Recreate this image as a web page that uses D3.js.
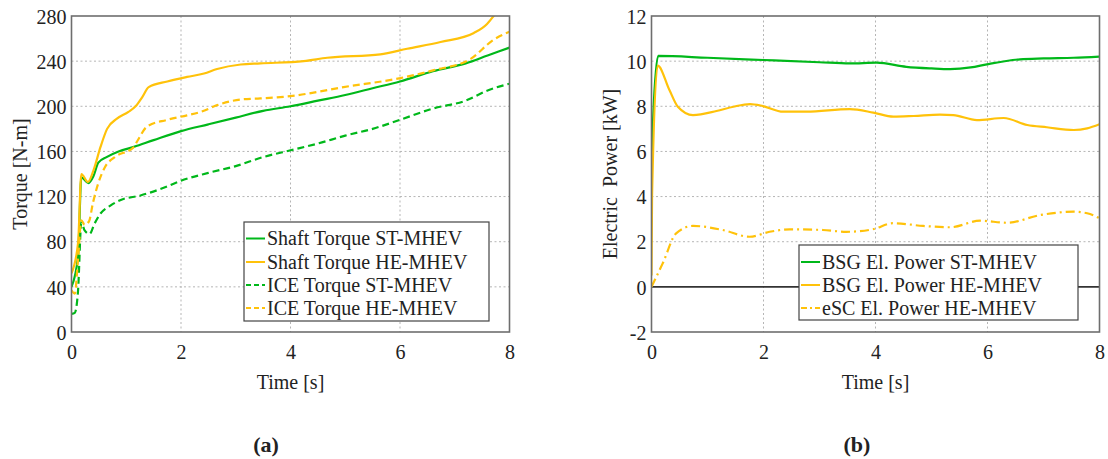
<!DOCTYPE html>
<html><head><meta charset="utf-8">
<script src="https://cdn.jsdelivr.net/npm/d3@7"></script>
<style>
html,body{margin:0;padding:0;background:#fff;}
text{font-family:"Liberation Serif","Times New Roman",serif;fill:#222;}
</style></head>
<body><svg id="c" width="1108" height="459"></svg>
<script>
// ---------- data (a) ----------
const torqueTicks = [0,40,80,120,160,200,240,280];
const timeTicks = [0,2,4,6,8];
const shaftST_t = [0,0.12,0.18,0.31,0.4,0.49,0.64,0.86,1.14,1.5,2.0,2.5,3.0,3.5,4.0,4.5,5.0,5.5,6.0,6.6,7.2,7.6,8.0];
const shaftST_v = [40,67,137,132,138,150,155,160,164,170,178,184,190,196,200,205,210,216,222,231,238,245,252];
const shaftHE_t = [0,0.12,0.18,0.3,0.4,0.53,0.65,0.83,1.04,1.17,1.29,1.41,1.75,2.11,2.42,2.66,3.09,3.45,4.24,4.67,5.64,6.13,6.74,7.35,7.59,7.71,8.0];
const shaftHE_v = [52,79,140,133,143,164,180,189,195,200,208,217,222,226,229,233,237,238,240,243,246,251,257,265,273,280,300];
const iceST_t = [0,0.06,0.12,0.18,0.24,0.33,0.42,0.53,0.71,0.9,1.26,1.75,2.0,2.5,3.0,3.5,4.0,4.5,5.0,5.5,6.0,6.6,7.2,7.6,8.0];
const iceST_v = [16,17,37,97,90,87,96,105,112,117,121,129,134,141,147,155,161,167,174,180,188,198,205,214,220];
const iceHE_t = [0,0.06,0.12,0.18,0.24,0.32,0.39,0.49,0.61,0.79,1.14,1.2,1.38,1.75,2.11,2.36,2.66,3.09,3.45,4.0,4.97,6.01,6.62,7.29,7.71,8.0];
const iceHE_v = [37,34,65,99,95,98,114,132,146,155,164,169,182,188,192,195,201,206,207,209,217,225,232,242,259,266];
const legendA = ["Shaft Torque ST-MHEV","Shaft Torque HE-MHEV","ICE Torque ST-MHEV","ICE Torque HE-MHEV"];

// ---------- data (b) ----------
const powerTicks = [-2,0,2,4,6,8,10,12];
const bsgST_t = [0,0.03,0.12,1.0,2.0,3.0,3.54,4.02,4.55,5.0,5.33,5.7,5.99,6.58,7.0,7.54,8.0];
const bsgST_v = [4.5,7.5,10.23,10.15,10.05,9.95,9.9,9.93,9.75,9.68,9.65,9.72,9.86,10.08,10.12,10.15,10.2];
const bsgHE_t = [0,0.01,0.11,0.32,0.47,0.74,1.16,1.46,1.76,1.99,2.35,2.77,3.54,3.96,4.32,4.68,5.15,5.39,5.81,6.29,6.71,7.06,7.54,7.78,8.0];
const bsgHE_v = [0.5,4,9.8,8.72,7.98,7.61,7.79,7.98,8.1,8.01,7.76,7.76,7.87,7.72,7.54,7.57,7.63,7.61,7.39,7.48,7.17,7.07,6.95,7.02,7.2];
const esc_t = [0,0.2,0.44,0.74,1.27,1.75,2.11,2.47,3.06,3.48,3.95,4.31,4.85,5.33,5.87,6.35,6.94,7.54,7.78,8.0];
const esc_v = [0.0,1.04,2.37,2.7,2.52,2.22,2.44,2.55,2.52,2.44,2.55,2.82,2.7,2.64,2.93,2.84,3.18,3.33,3.26,3.04];
const legendB = ["BSG El. Power ST-MHEV","BSG El. Power HE-MHEV","eSC El. Power HE-MHEV"];

const GREEN = "#00b81a", YELLOW = "#ffc20a";
const FS = 20;
const svg = d3.select("#c");

function panel(opt){
  const g = svg.append("g");
  const x = d3.scaleLinear().domain([0,8]).range([opt.x0,opt.x1]);
  const y = d3.scaleLinear().domain(opt.ydom).range([opt.y1,opt.y0]);
  const id = "clip"+opt.name;
  svg.append("defs").append("clipPath").attr("id",id).append("rect")
    .attr("x",opt.x0).attr("y",opt.y0).attr("width",opt.x1-opt.x0).attr("height",opt.y1-opt.y0);
  // grid
  g.append("g").selectAll("line").data(timeTicks.filter(t=>t>0&&t<8)).join("line")
    .attr("x1",d=>x(d)).attr("x2",d=>x(d)).attr("y1",opt.y0).attr("y2",opt.y1)
    .attr("stroke","#b5b5b5").attr("stroke-width",1).attr("stroke-dasharray","2,2.5");
  g.append("g").selectAll("line").data(opt.yticks.filter(t=>t>opt.ydom[0]&&t<opt.ydom[1]&&!(opt.zero&&t===0))).join("line")
    .attr("y1",d=>y(d)).attr("y2",d=>y(d)).attr("x1",opt.x0).attr("x2",opt.x1)
    .attr("stroke","#b5b5b5").attr("stroke-width",1).attr("stroke-dasharray","2,2.5");
  if(opt.zero){
    g.append("line").attr("x1",opt.x0).attr("x2",opt.x1).attr("y1",y(0)).attr("y2",y(0))
      .attr("stroke","#333").attr("stroke-width",1.6);
  }
  // series
  const line = d3.line().x(d=>x(d[0])).y(d=>y(d[1])).curve(d3.curveMonotoneX);
  const sg = g.append("g").attr("clip-path",`url(#${id})`);
  opt.series.forEach(s=>{
    sg.append("path").datum(d3.zip(s.t,s.v)).attr("d",line).attr("fill","none")
      .attr("stroke",s.color).attr("stroke-width",2.2).attr("stroke-dasharray",s.dash||null)
      .attr("stroke-linejoin","round");
  });
  // frame
  g.append("rect").attr("x",opt.x0).attr("y",opt.y0).attr("width",opt.x1-opt.x0).attr("height",opt.y1-opt.y0)
    .attr("fill","none").attr("stroke","#6e6e6e").attr("stroke-width",1.6);
  // axes labels via d3 axes
  const ax = g.append("g").attr("transform",`translate(0,${opt.y1})`)
    .call(d3.axisBottom(x).tickValues(timeTicks).tickSize(0).tickPadding(12).tickFormat(d=>String(d)));
  ax.select(".domain").remove();
  ax.selectAll("text").attr("font-size",FS).attr("font-family",null).attr("dy","0.75em");
  const ay = g.append("g").attr("transform",`translate(${opt.x0},0)`)
    .call(d3.axisLeft(y).tickValues(opt.yticks).tickSize(0).tickPadding(5).tickFormat(d=>String(d)));
  ay.select(".domain").remove();
  ay.selectAll("text").attr("font-size",FS).attr("font-family",null).attr("dy","0.36em");
  // titles
  g.append("text").attr("x",(opt.x0+opt.x1)/2).attr("y",389).attr("text-anchor","middle")
    .attr("font-size",FS).text("Time [s]");
  g.append("text").attr("transform",`translate(${opt.ylx},${(opt.y0+opt.y1)/2}) rotate(-90)`)
    .attr("text-anchor","middle").attr("font-size",FS).style("white-space","pre").text(opt.ylabel);
  // legend
  const L = opt.legend;
  g.append("rect").attr("x",L.x).attr("y",L.y).attr("width",L.w).attr("height",L.h)
    .attr("fill","#fff").attr("stroke","#444").attr("stroke-width",1.2);
  L.items.forEach((it,i)=>{
    const yy = L.rows[i];
    g.append("line").attr("x1",L.x+2).attr("x2",L.x+21).attr("y1",yy).attr("y2",yy)
      .attr("stroke",it.color).attr("stroke-width",2).attr("stroke-dasharray",it.dash||null);
    g.append("text").attr("x",L.x+23).attr("y",yy).attr("dy","0.34em").attr("font-size",FS).text(it.label);
  });
  g.append("text").attr("x",opt.cap).attr("y",452).attr("text-anchor","middle")
    .attr("font-size",22).attr("font-weight","bold").text(opt.caption);
}

panel({name:"a",x0:71.5,x1:509.5,y0:16,y1:332,ydom:[0,280],yticks:torqueTicks,ylx:27,
  ylabel:"Torque [N-m]",caption:"(a)",cap:266,
  series:[
    {t:shaftST_t,v:shaftST_v,color:GREEN},
    {t:shaftHE_t,v:shaftHE_v,color:YELLOW},
    {t:iceST_t,v:iceST_v,color:GREEN,dash:"7,4"},
    {t:iceHE_t,v:iceHE_v,color:YELLOW,dash:"7,4"}],
  legend:{x:244,y:222,w:245,h:99,rows:[238.5,262,285,308],
    items:[{label:legendA[0],color:GREEN},{label:legendA[1],color:YELLOW},
      {label:legendA[2],color:GREEN,dash:"5,3"},{label:legendA[3],color:YELLOW,dash:"5,3"}]}
});

panel({name:"b",x0:651.5,x1:1099.5,y0:16,y1:332,ydom:[-2,12],yticks:powerTicks,ylx:617,zero:true,
  ylabel:"Electric  Power [kW]",caption:"(b)",cap:857,
  series:[
    {t:bsgST_t,v:bsgST_v,color:GREEN},
    {t:bsgHE_t,v:bsgHE_v,color:YELLOW},
    {t:esc_t,v:esc_v,color:YELLOW,dash:"9,4,2,4"}],
  legend:{x:799,y:245,w:279,h:75,rows:[262,285,308],
    items:[{label:legendB[0],color:GREEN},{label:legendB[1],color:YELLOW},
      {label:legendB[2],color:YELLOW,dash:"6,3,2,3"}]}
});
</script></body></html>
